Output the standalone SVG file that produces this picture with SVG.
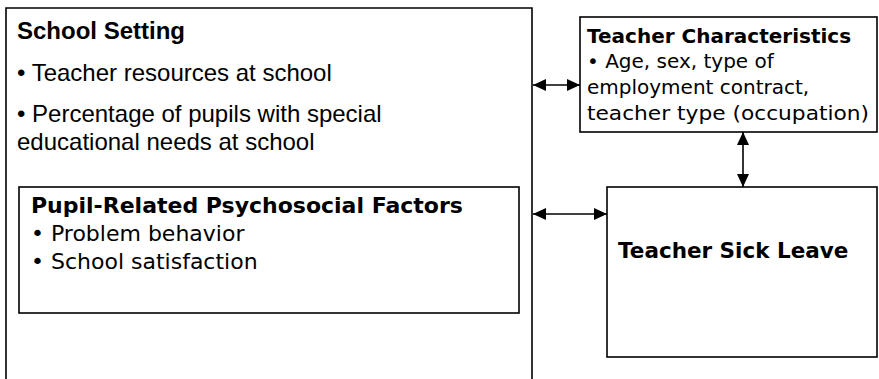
<svg xmlns="http://www.w3.org/2000/svg" width="879" height="379" viewBox="0 0 879 379">
<defs>
<style>
.box{fill:#fff;stroke:#000;stroke-width:1.6}
.a{font-family:"Liberation Sans",Arial,sans-serif;font-size:24px;fill:#000}
.ab{font-family:"Liberation Sans",Arial,sans-serif;font-size:24px;font-weight:bold;fill:#000}
.f{font-family:"DejaVu Sans",Verdana,sans-serif;font-size:22px;fill:#000}
.fb{font-family:"DejaVu Sans",Verdana,sans-serif;font-size:22px;font-weight:bold;fill:#000}
.s{font-size:20px}
.m{font-size:21.5px}
.c{stroke:#000;stroke-width:1.6;fill:none}
</style>
<marker id="ah" viewBox="0 0 13 12" refX="13" refY="6" markerWidth="13" markerHeight="12" markerUnits="userSpaceOnUse" orient="auto-start-reverse">
<path d="M0,0 L13,6 L0,12 Z" fill="#000"/>
</marker>
</defs>
<g id="school-setting">
<path class="box" d="M6,390 L6,8 L532,8 L532,390"/>
<text class="ab" x="17" y="39">School Setting</text>
<text class="a" x="17" y="81">• Teacher resources at school</text>
<text class="a" x="17" y="122">• Percentage of pupils with special</text>
<text class="a" x="17" y="150">educational needs at school</text>
</g>
<g id="pupil-factors">
<rect class="box" x="19" y="187" width="500" height="126"/>
<text class="fb" x="31" y="213">Pupil-Related Psychosocial Factors</text>
<text class="f" x="31" y="241">• Problem behavior</text>
<text class="f" x="31" y="269">• School satisfaction</text>
</g>
<g id="teacher-characteristics">
<rect class="box" x="580" y="17" width="297" height="115"/>
<text class="fb s" x="587" y="43">Teacher Characteristics</text>
<text class="f s" x="587" y="68">• Age, sex, type of</text>
<text class="f s" x="587" y="94">employment contract,</text>
<text class="f s" x="587" y="120" textLength="282" lengthAdjust="spacingAndGlyphs">teacher type (occupation)</text>
</g>
<g id="sick-leave">
<rect class="box" x="607" y="187" width="270" height="170"/>
<text class="fb m" x="618" y="258">Teacher Sick Leave</text>
</g>
<g id="connectors">
<line class="c" x1="533" y1="85" x2="580" y2="85" marker-start="url(#ah)" marker-end="url(#ah)"/>
<line class="c" x1="533" y1="214" x2="607" y2="214" marker-start="url(#ah)" marker-end="url(#ah)"/>
<line class="c" x1="743" y1="132" x2="743" y2="187" marker-start="url(#ah)" marker-end="url(#ah)"/>
</g>
</svg>
